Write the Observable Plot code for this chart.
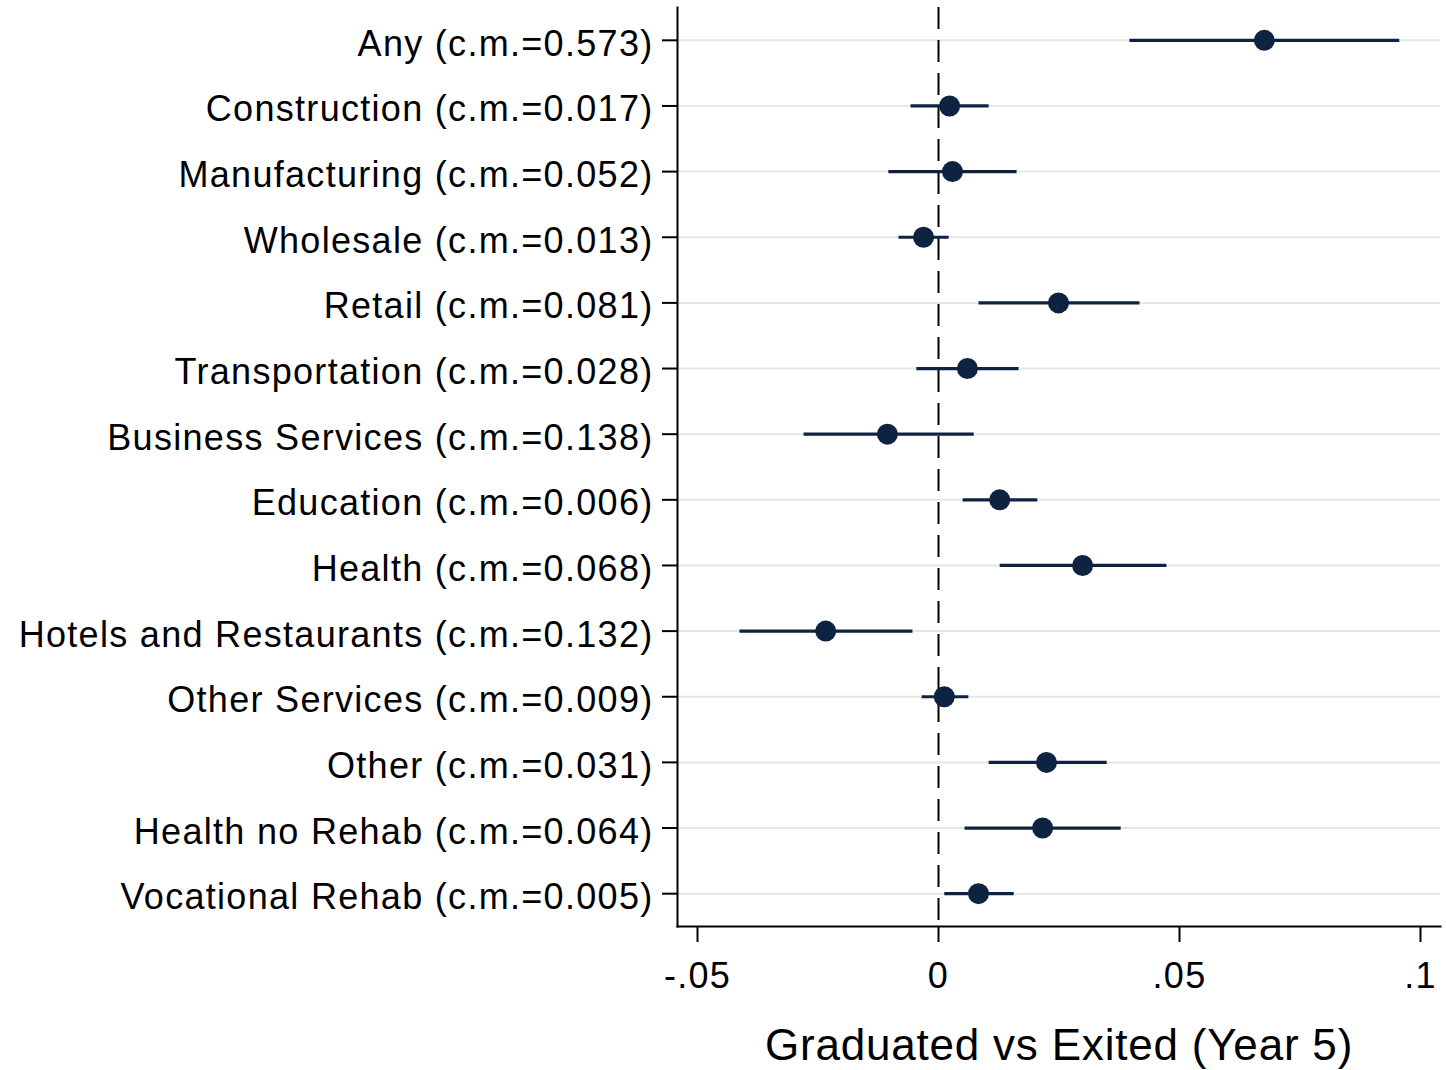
<!DOCTYPE html>
<html><head><meta charset="utf-8">
<script src="https://cdn.jsdelivr.net/npm/d3@7"></script>
<script src="https://cdn.jsdelivr.net/npm/@observablehq/plot@0.6"></script>
<style>body{margin:0;background:#fff}</style>
</head><body><div id="chart"></div>
<script>
const categories = ["Any","Construction","Manufacturing","Wholesale","Retail","Transportation","Business Services","Education","Health","Hotels and Restaurants","Other Services","Other","Health no Rehab","Vocational Rehab"];
const controlMeans = ["0.573","0.017","0.052","0.013","0.081","0.028","0.138","0.006","0.068","0.132","0.009","0.031","0.064","0.005"];
const estimates = [0.0676,0.0023,0.0029,-0.0031,0.0249,0.0060,-0.0106,0.0127,0.0299,-0.0234,0.0012,0.0224,0.0216,0.0083];
const lower = [0.0396,-0.0058,-0.0104,-0.0083,0.0083,-0.0046,-0.0280,0.0050,0.0127,-0.0413,-0.0035,0.0104,0.0054,0.0012];
const upper = [0.0956,0.0104,0.0162,0.0021,0.0417,0.0166,0.0073,0.0205,0.0473,-0.0054,0.0062,0.0349,0.0378,0.0156];
const xTicks = [-0.05, 0, 0.05, 0.1];
const xTitle = "Graduated vs Exited (Year 5)";

const rows = categories.map((c, i) => ({label: `${c} (c.m.=${controlMeans[i]})`, est: estimates[i], lo: lower[i], hi: upper[i]}));
const labels = rows.map(d => d.label);
const navy = "#0e2341";
const fmt = d => d === 0 ? "0" : String(d).replace("0.", ".");

const chart = Plot.plot({
  width: 1446, height: 1070,
  marginLeft: 677, marginRight: 6, marginTop: 7, marginBottom: 144,
  style: {fontFamily: "'Liberation Sans', Arial, sans-serif", background: "#fff", color: "#000", letterSpacing: "1.3px"},
  x: {domain: [-0.05415, 0.10415]},
  y: {type: "point", domain: labels, padding: 0.5, round: false},
  marks: [
    Plot.ruleY(labels, {stroke: "#e6e6e6", strokeWidth: 2}),
    Plot.ruleX([0], {stroke: "#000", strokeWidth: 2, strokeDasharray: "22,11"}),
    Plot.link(rows, {x1: "lo", x2: "hi", y1: "label", y2: "label", stroke: navy, strokeWidth: 3.2}),
    Plot.dot(rows, {x: "est", y: "label", r: 10.5, fill: navy}),
    Plot.frame({anchor: "left", stroke: "#000", strokeWidth: 2}),
    Plot.frame({anchor: "bottom", stroke: "#000", strokeWidth: 2}),
    Plot.axisY({tickSize: 15, text: null, label: null, strokeWidth: 2}),
    Plot.axisY({tickSize: 0, tickPadding: 24, fontSize: 36, label: null, dy: 4}),
    Plot.axisX(xTicks, {tickSize: 16, tickPadding: 20, fontSize: 36, label: null, strokeWidth: 2, tickFormat: fmt}),
    Plot.text([xTitle], {frameAnchor: "bottom", dy: 119, lineAnchor: "middle", fontSize: 44, fill: "#000"})
  ]
});
chart.querySelectorAll("text").forEach(t => { if (t.textContent === xTitle) t.style.letterSpacing = "0.8px"; });
document.getElementById("chart").append(chart);
</script>
</body></html>
